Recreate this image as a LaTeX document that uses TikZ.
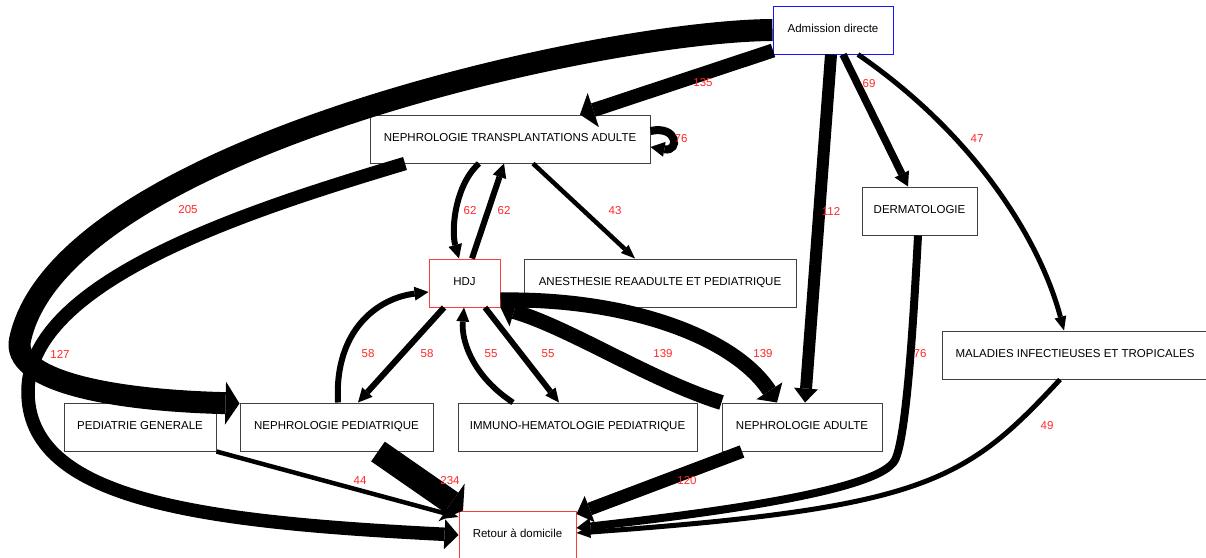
\documentclass[tikz,border=0pt]{standalone}
\usepackage{fontspec}
\setmainfont{Liberation Sans}
\usetikzlibrary{arrows.meta}
\definecolor{boxgray}{RGB}{64,64,64}
\definecolor{admblue}{RGB}{20,20,255}
\definecolor{outred}{RGB}{255,60,60}
\definecolor{labelred}{RGB}{255,40,40}
\tikzset{
  box/.style={draw=boxgray, line width=1pt, fill=white, minimum height=48pt,
    inner sep=0pt, text height=8.5pt, text depth=3.5pt,
    font=\fontsize{11.5}{13}\selectfont},
  cnt/.style={text=labelred, font=\fontsize{11.5}{13}\selectfont, inner sep=0pt},
  flow/.style={line width=#1, draw=black},
  arrowhd/.style={-{Triangle[length=14pt,width=#1,line width=0pt]}},
}
\begin{document}
\begin{tikzpicture}[x=1pt,y=-1pt]
\clip (0,0) rectangle (1206,557);
\fill[white] (0,0) rectangle (1206,557);

% services
\node[box, draw=admblue, minimum width=120pt] (adm) at (833,30) {Admission directe};
\node[box, minimum width=280pt] (ntx) at (510,139) {NEPHROLOGIE TRANSPLANTATIONS ADULTE};
\node[box, draw=outred, minimum width=71pt] (hdj) at (464.5,283) {HDJ};
\node[box, minimum width=272pt] (ane) at (660,283) {ANESTHESIE REAADULTE ET PEDIATRIQUE};
\node[box, minimum width=115pt] (der) at (919.5,211) {DERMATOLOGIE};
\node[box, minimum width=266pt] (mal) at (1075,355) {MALADIES INFECTIEUSES ET TROPICALES};
\node[box, minimum width=152pt] (pg) at (140,427) {PEDIATRIE GENERALE};
\node[box, minimum width=193pt] (npp) at (336.5,427) {NEPHROLOGIE PEDIATRIQUE};
\node[box, minimum width=239pt] (imh) at (577.5,427) {IMMUNO-HEMATOLOGIE PEDIATRIQUE};
\node[box, minimum width=160pt] (na) at (802,427) {NEPHROLOGIE ADULTE};
\node[box, draw=outred, minimum width=117pt] (ret) at (517.5,535) {Retour à domicile};

% flows, width proportional to the number of stays
\draw[flow=14pt, arrowhd=36pt] (773,50 |- adm.south) ++(0,-4) -- (580,0 |- ntx.north);
\draw[flow=22pt, arrowhd=43pt] (adm.west) .. controls (600,31) and (60,150) .. (20,340)
  .. controls (12,378) and (100,400) .. ([yshift=-1pt]npp.north west);
\draw[flow=13.5pt, arrowhd=30pt] (405,0 |- ntx.south) .. controls (250,210) and (30,280) .. (28,390)
  .. controls (26,500) and (200,522) .. (ret.west);
\draw[flow=12pt, arrowhd=24pt] (831,0 |- adm.south) -- (805,0 |- na.north);
\draw[flow=7.5pt, arrowhd=16pt] (843,0 |- adm.south) -- (908,0 |- der.north);
\draw[flow=5pt, arrowhd=12pt] (858,0 |- adm.south) .. controls (975,135) and (1040,240) .. (1064,0 |- mal.north);
\draw[flow=8pt, arrowhd=15pt] ([yshift=8pt]ntx.east) .. controls (678,125) and (680,152) .. ([yshift=-8pt]ntx.east);
\draw[flow=6pt, arrowhd=14pt] (479,0 |- ntx.south) .. controls (455,185) and (451,230) .. (459,0 |- hdj.north);
\draw[flow=6pt, arrowhd=14pt] (472,0 |- hdj.north) -- (504,0 |- ntx.south);
\draw[flow=4.5pt, arrowhd=11pt] (533,0 |- ntx.south) -- (635,0 |- ane.north);
\draw[flow=6pt, arrowhd=14pt] (338,0 |- npp.north) .. controls (334,330) and (378,298) .. (hdj.west |- 0,292);
\draw[flow=6pt, arrowhd=14pt] (444,0 |- hdj.south) -- (358,0 |- npp.north);
\draw[flow=5.8pt, arrowhd=13pt] (513,0 |- imh.north) .. controls (474,377) and (461,342) .. (464,0 |- hdj.south);
\draw[flow=5.8pt, arrowhd=13pt] (485,0 |- hdj.south) -- (559,0 |- imh.north);
\draw[flow=15pt, arrowhd=31pt] (na.north west) .. controls (650,380) and (570,328) .. (hdj.south east);
\draw[flow=15pt, arrowhd=31pt] (hdj.east |- 0,300) .. controls (630,298) and (735,338) .. (777,0 |- na.north);
\draw[flow=4.5pt, arrowhd=11pt] (pg.south east) -- (ret.west |- 0,517);
\draw[flow=24pt, arrowhd=46pt] (378,0 |- npp.south) -- (463,0 |- ret.north);
\draw[flow=13pt, arrowhd=28pt] (742,0 |- na.south) -- (ret.east |- 0,514);
\draw[flow=8pt, arrowhd=17pt] (918,0 |- der.south) .. controls (912,350) and (905,440) .. (895,460)
  .. controls (880,490) and (720,512) .. (ret.east |- 0,528);
\draw[flow=5pt, arrowhd=12pt] (1060,0 |- mal.south) .. controls (965,482) and (925,508) .. (ret.east |- 0,533);

% counts
\node[cnt] (c135) at (703,83) {135};
\node[cnt] (c76a) at (681,139) {76};
\node[cnt] (c205) at (188,210) {205};
\node[cnt] (c62a) at (470,211) {62};
\node[cnt] (c62b) at (504,211) {62};
\node[cnt] (c43) at (615,211) {43};
\node[cnt] (c112) at (831,211) {112};
\node[cnt] (c69) at (869,84) {69};
\node[cnt] (c47) at (977,139) {47};
\node[cnt] (c127) at (60,354) {127};
\node[cnt] (c58a) at (368,354) {58};
\node[cnt] (c58b) at (427,354) {58};
\node[cnt] (c55a) at (491,354) {55};
\node[cnt] (c55b) at (548,354) {55};
\node[cnt] (c139a) at (663,354) {139};
\node[cnt] (c139b) at (763,354) {139};
\node[cnt] (c76b) at (920,354) {76};
\node[cnt] (c49) at (1047,426) {49};
\node[cnt] (c44) at (360,481) {44};
\node[cnt] (c234) at (450,481) {234};
\node[cnt] (c120) at (687,481) {120};
\end{tikzpicture}
\end{document}
